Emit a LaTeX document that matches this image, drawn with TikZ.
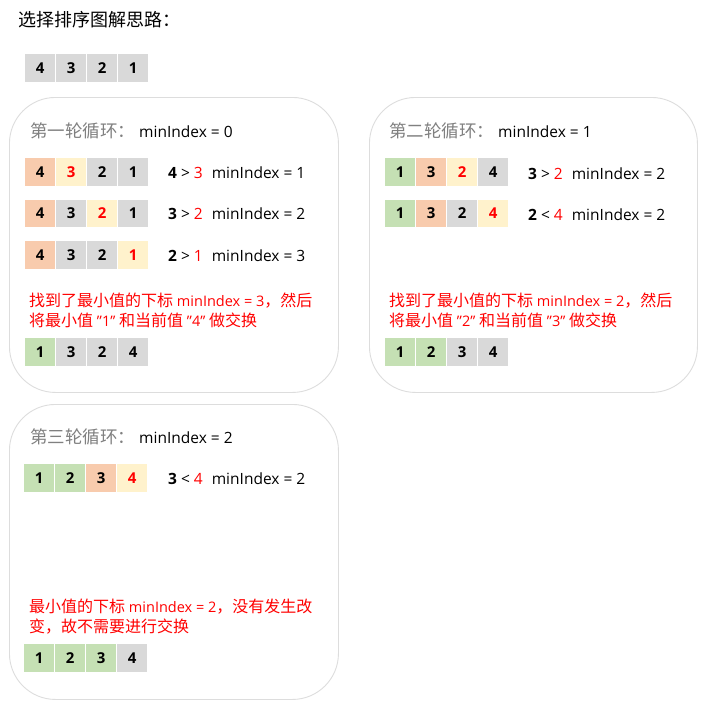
\documentclass[tikz,border=0pt]{standalone}
\usepackage{fontspec}
\setmainfont{Open Sans}
\newfontfamily\cjk{Noto Sans CJK SC}
\definecolor{cgray}{HTML}{D9D9D9}
\definecolor{corange}{HTML}{F8CBAD}
\definecolor{cyellow}{HTML}{FFF2CC}
\definecolor{cgreen}{HTML}{C5E0B4}
\definecolor{cred}{HTML}{FF0000}
\definecolor{hgray}{HTML}{808080}
\definecolor{bgray}{HTML}{DDDDDD}
\tikzset{
  cellbox/.style={minimum width=30pt, minimum height=27.5pt, inner sep=0pt, anchor=north west,
    font=\fontsize{15}{18}\selectfont\bfseries},
  roundbox/.style={draw=bgray, line width=0.9pt, rounded corners=46pt, anchor=north west, inner sep=0pt},
  head/.style={anchor=west, inner sep=0pt, font=\fontsize{15.5}{19}\selectfont},
  cmp/.style={anchor=west, inner sep=0pt, font=\fontsize{15.5}{18}\selectfont},
  note/.style={anchor=north west, inner sep=0pt, align=left, text=cred, font=\fontsize{14.5}{19.7}\selectfont},
}
\newcommand\zh[1]{{\cjk\fontsize{16}{19.7}\selectfont #1}}
\newcommand\hd[1]{\textcolor{hgray}{\cjk\fontsize{17.5}{19}\selectfont #1}}
\newcommand\cellrow[4]{%
  \foreach \f/\v/\c [count=\i from 0] in {#4} {
    \node[cellbox, fill=\f, text=\c] (#1-\i) at ({#2+31*\i}, #3) {\v};
  }}
\begin{document}
\begin{tikzpicture}[x=1pt, y=-1pt]
\useasboundingbox[fill=white] (0,0) rectangle (712,715);
% title
\node[anchor=west, inner sep=0pt, font=\cjk\fontsize{18}{21}\selectfont] (title) at (18,20) {选择排序图解思路：};
\cellrow{init}{25}{54}{cgray/4/black, cgray/3/black, cgray/2/black, cgray/1/black}
% boxes
\node[roundbox, minimum width=329pt, minimum height=295pt] (box1) at (9,97) {};
\node[roundbox, minimum width=328pt, minimum height=295pt] (box2) at (369,97) {};
\node[roundbox, minimum width=329pt, minimum height=295pt] (box3) at (9,404) {};
% round 1
\node[head] (h1) at (30,131) {\hd{第一轮循环：}\hspace{4pt}minIndex = 0};
\cellrow{r1a}{25}{158}{corange/4/black, cyellow/3/cred, cgray/2/black, cgray/1/black}
\cellrow{r1b}{25}{199.5}{corange/4/black, cgray/3/black, cyellow/2/cred, cgray/1/black}
\cellrow{r1c}{25}{241}{corange/4/black, cgray/3/black, cgray/2/black, cyellow/1/cred}
\node[cmp] (c1a) at (168,173) {\textbf{4} > \textcolor{cred}{3}\hspace{9pt}minIndex = 1};
\node[cmp] (c1b) at (168,214) {\textbf{3} > \textcolor{cred}{2}\hspace{9pt}minIndex = 2};
\node[cmp] (c1c) at (168,256) {\textbf{2} > \textcolor{cred}{1}\hspace{9pt}minIndex = 3};
\node[note] (n1) at (29,293) {\zh{找到了最小值的下标} minIndex = 3\zh{，然后}\\\zh{将最小值} ”1” \zh{和当前值} ”4” \zh{做交换}};
\cellrow{r1d}{25}{338}{cgreen/1/black, cgray/3/black, cgray/2/black, cgray/4/black}
% round 2
\node[head] (h2) at (389,131) {\hd{第二轮循环：}\hspace{4pt}minIndex = 1};
\cellrow{r2a}{385}{158}{cgreen/1/black, corange/3/black, cyellow/2/cred, cgray/4/black}
\cellrow{r2b}{385}{199.5}{cgreen/1/black, corange/3/black, cgray/2/black, cyellow/4/cred}
\node[cmp] (c2a) at (528,174) {\textbf{3} > \textcolor{cred}{2}\hspace{9pt}minIndex = 2};
\node[cmp] (c2b) at (528,215) {\textbf{2} < \textcolor{cred}{4}\hspace{9pt}minIndex = 2};
\node[note] (n2) at (389,293) {\zh{找到了最小值的下标} minIndex = 2\zh{，然后}\\\zh{将最小值} ”2” \zh{和当前值} ”3” \zh{做交换}};
\cellrow{r2c}{385}{338}{cgreen/1/black, cgreen/2/black, cgray/3/black, cgray/4/black}
% round 3
\node[head] (h3) at (30,437) {\hd{第三轮循环：}\hspace{4pt}minIndex = 2};
\cellrow{r3a}{24}{464}{cgreen/1/black, cgreen/2/black, corange/3/black, cyellow/4/cred}
\node[cmp] (c3a) at (168,479) {\textbf{3} < \textcolor{cred}{4}\hspace{9pt}minIndex = 2};
\node[note] (n3) at (29,599) {\zh{最小值的下标} minIndex = 2\zh{，没有发生改}\\\zh{变，故不需要进行交换}};
\cellrow{r3b}{24}{644}{cgreen/1/black, cgreen/2/black, cgreen/3/black, cgray/4/black}
\end{tikzpicture}
\end{document}
